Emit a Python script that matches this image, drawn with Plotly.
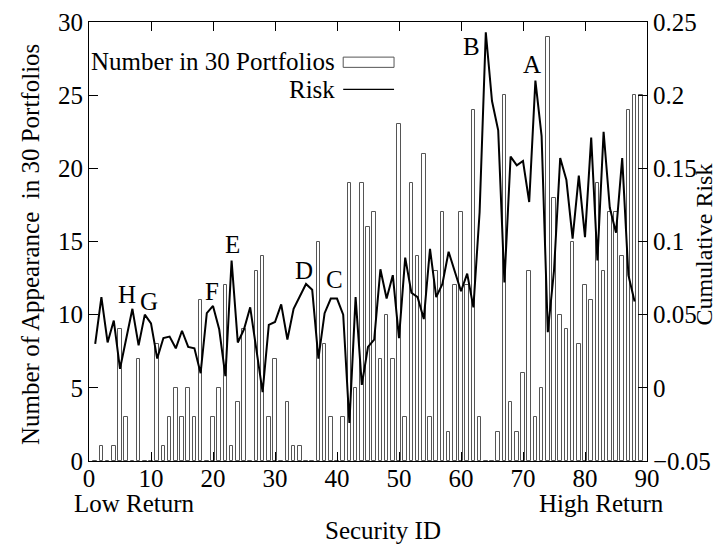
import plotly.graph_objects as go

security_id = list(range(1, 90))
appearances = [0, 1, 0, 1, 9, 3, 0, 7, 0, 0,
               8, 1, 3, 5, 3, 5, 3, 11, 0, 3,
               5, 12, 1, 4, 9, 0, 13, 14, 3, 7,
               0, 4, 1, 1, 0, 0, 15, 8, 3, 0,
               3, 19, 5, 19, 16, 17, 7, 10, 7, 23,
               3, 19, 14, 21, 3, 13, 17, 2, 12, 17,
               12, 24, 3, 0, 0, 2, 25, 4, 2, 6,
               13, 3, 5, 29, 18, 10, 9, 15, 8, 12,
               11, 19, 13, 17, 17, 14, 24, 25, 25]

risk_id = list(range(1, 89))
risk = [0.030, 0.062, 0.031, 0.046, 0.013, 0.034, 0.054, 0.029, 0.050, 0.044,
        0.020, 0.034, 0.035, 0.027, 0.039, 0.028, 0.027, 0.010, 0.051, 0.056,
        0.040, 0.008, 0.087, 0.031, 0.040, 0.055, 0.027, -0.003, 0.043, 0.045,
        0.057, 0.033, 0.054, 0.063, 0.071, 0.067, 0.020, 0.051, 0.061, 0.061,
        0.050, -0.024, 0.062, 0.002, 0.028, 0.033, 0.081, 0.061, 0.077, 0.034,
        0.089, 0.065, 0.062, 0.047, 0.095, 0.062, 0.071, 0.093, 0.080, 0.066,
        0.078, 0.055, 0.120, 0.243, 0.196, 0.176, 0.072, 0.158, 0.152, 0.155,
        0.127, 0.210, 0.172, 0.038, 0.080, 0.157, 0.142, 0.102, 0.145, 0.103,
        0.171, 0.087, 0.175, 0.123, 0.106, 0.157, 0.077, 0.059]

point_labels = ["H", "G", "F", "E", "D", "C", "B", "A"]
label_x = [6.05, 9.6, 19.8, 23.1, 34.6, 39.6, 61.7, 71.45]
label_y = [11.4, 10.9, 11.6, 14.8, 13.0, 12.4, 28.3, 27.1]

FONT = "Liberation Serif"
FS = 25

def f(size=FS):
    return dict(family=FONT, size=size, color="black")

fig = go.Figure()
fig.add_trace(go.Bar(
    x=security_id, y=appearances, width=0.6,
    marker=dict(color="white", line=dict(color="#555555", width=1)),
    name="Number in 30 Portfolios", showlegend=False, yaxis="y"))
fig.add_trace(go.Scatter(
    x=risk_id, y=risk, mode="lines",
    line=dict(color="black", width=2),
    name="Risk", showlegend=False, yaxis="y2"))

ann = []
for t, x, y in zip(point_labels, label_x, label_y):
    ann.append(dict(x=x, y=y, xref="x", yref="y", text=t, showarrow=False,
                    xanchor="center", yanchor="middle", font=f()))

def pann(x, y, text, angle=0, size=FS):
    return dict(x=x, y=y, xref="paper", yref="paper", text=text,
                textangle=angle, showarrow=False, xanchor="center",
                yanchor="middle", font=f(size))

ann += [
    pann(-0.106, 0.494, "Number of Appearance \u00a0in 30 Portfolios", -90),
    pann(1.103, 0.494, "Cumulative Risk", -90, 24),
    pann(0.527, -0.159, "Security ID"),
    pann(0.082, -0.096, "Low Return"),
    pann(0.918, -0.096, "High Return"),
    dict(x=40.0, y=27.3, xref="x", yref="y", text="Number in 30 Portfolios",
         xanchor="right", yanchor="middle", showarrow=False, font=f()),
    dict(x=40.0, y=25.4, xref="x", yref="y", text="Risk",
         xanchor="right", yanchor="middle", showarrow=False, font=f()),
]

shapes = [
    dict(type="rect", xref="x", yref="y", x0=41.0, x1=49.2, y0=26.9, y1=27.6,
         line=dict(color="#555555", width=1), fillcolor="white"),
    dict(type="line", xref="x", yref="y", x0=41.0, x1=49.2, y0=25.4, y1=25.4,
         line=dict(color="black", width=1.2)),
]

axis_common = dict(showgrid=False, zeroline=False, showline=True,
                   linecolor="black", linewidth=1, ticks="inside", ticklen=9,
                   tickcolor="black", automargin=False, tickfont=f())

fig.update_layout(
    width=725, height=548,
    margin=dict(l=81, r=86, t=14, b=95, autoexpand=False),
    plot_bgcolor="white", paper_bgcolor="white",
    bargap=0,
    xaxis=dict(range=[0, 90], tick0=0, dtick=10, mirror="ticks",
               ticklabelstandoff=-5, **axis_common),
    yaxis=dict(range=[0, 30], tick0=0, dtick=5, mirror="ticks", **axis_common),
    yaxis2=dict(range=[-0.05, 0.25], tick0=-0.05, dtick=0.05, overlaying="y",
                side="right", **axis_common),
    annotations=ann, shapes=shapes,
)

fig.write_html("out.html")
